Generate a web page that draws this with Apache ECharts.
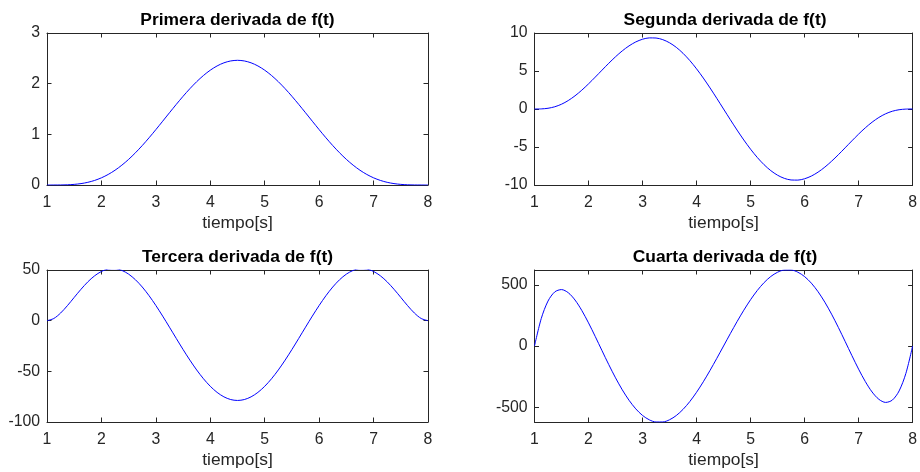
<!DOCTYPE html>
<html>
<head>
<meta charset="utf-8">
<title>Derivadas de f(t)</title>
<script src="https://cdn.jsdelivr.net/npm/echarts@6/dist/echarts.min.js"></script>
<style>
  html, body { margin: 0; padding: 0; background: #ffffff; }
  #chart { width: 920px; height: 472px; }
</style>
</head>
<body>
<div id="chart"></div>
<script>
// Time samples, 1 s to 8 s
const tiempo = [
  1, 1.125, 1.25, 1.375, 1.5, 1.625, 1.75, 1.875, 2, 2.125, 2.25, 2.375, 2.5, 2.625, 2.75, 2.875,
  3, 3.125, 3.25, 3.375, 3.5, 3.625, 3.75, 3.875, 4, 4.125, 4.25, 4.375, 4.5, 4.625, 4.75, 4.875,
  5, 5.125, 5.25, 5.375, 5.5, 5.625, 5.75, 5.875, 6, 6.125, 6.25, 6.375, 6.5, 6.625, 6.75, 6.875,
  7, 7.125, 7.25, 7.375, 7.5, 7.625, 7.75, 7.875, 8
];

const primera = [
  0, 0.00006, 0.00089, 0.00416, 0.01219, 0.02754, 0.05276, 0.09016, 0.14164, 0.20854, 0.29166, 0.39108,
  0.50625, 0.63604, 0.77867, 0.93183, 1.09286, 1.25863, 1.4258, 1.59098, 1.7505, 1.90104, 2.0391, 2.16177,
  2.2661, 2.34984, 2.4111, 2.44843, 2.46094, 2.44843, 2.4111, 2.34984, 2.2661, 2.16177, 2.0391, 1.90104,
  1.7505, 1.59098, 1.4258, 1.25863, 1.09286, 0.93183, 0.77867, 0.63604, 0.50625, 0.39108, 0.29166, 0.20854,
  0.14164, 0.09016, 0.05276, 0.02754, 0.01219, 0.00416, 0.00089, 0.00006, 0
];

const segunda = [
  0, 0.0131, 0.0956, 0.2933, 0.6303, 1.1129, 1.7334, 2.473, 3.3049, 4.1965, 5.1128, 6.017,
  6.8727, 7.6462, 8.3057, 8.8244, 9.1797, 9.3552, 9.3386, 9.1249, 8.7137, 8.1111, 7.3279, 6.3799,
  5.2876, 4.0751, 2.7697, 1.4009, 0, -1.4009, -2.7697, -4.0751, -5.2876, -6.3799, -7.3279, -8.1111,
  -8.7137, -9.1249, -9.3386, -9.3552, -9.1797, -8.8244, -8.3057, -7.6462, -6.8727, -6.017, -5.1128, -4.1965,
  -3.3049, -2.473, -1.7334, -1.1129, -0.6303, -0.2933, -0.0956, -0.0131, 0
];

const tercera = [
  0, 2.135, 7.525, 14.836, 22.964, 31.018, 38.299, 44.278, 48.581, 50.966, 51.316, 49.612,
  45.922, 40.392, 33.223, 24.662, 14.994, 4.526, -6.422, -17.525, -28.464, -38.933, -48.644, -57.333,
  -64.773, -70.768, -75.165, -77.849, -78.75, -77.849, -75.165, -70.768, -64.773, -57.333, -48.644, -38.933,
  -28.464, -17.525, -6.422, 4.526, 14.994, 24.662, 33.223, 40.392, 45.922, 49.612, 51.316, 50.966,
  48.581, 44.278, 38.299, 31.018, 22.964, 14.836, 7.525, 2.135, 0
];

const cuarta = [
  0, 224.32, 366.97, 441.55, 460.5, 435.07, 375.44, 290.7, 188.92, 77.23, -38.19, -152.02,
  -259.77, -357.74, -442.97, -513.19, -566.77, -602.68, -620.44, -620.12, -602.18, -567.55, -517.5, -453.64,
  -377.84, -292.22, -199.07, -100.82, 0, 100.82, 199.07, 292.22, 377.84, 453.64, 517.5, 567.55,
  602.18, 620.12, 620.44, 602.68, 566.77, 513.19, 442.97, 357.74, 259.77, 152.02, 38.19, -77.23,
  -188.92, -290.7, -375.44, -435.07, -460.5, -441.55, -366.97, -224.32, 0
];

// Panel titles and tick labels
const titulos = [
  'Primera derivada de f(t)',
  'Segunda derivada de f(t)',
  'Tercera derivada de f(t)',
  'Cuarta derivada de f(t)'
];
const etiquetaX = 'tiempo[s]';
const ticksX = [1, 2, 3, 4, 5, 6, 7, 8];
const ticksY1 = [0, 1, 2, 3];
const ticksY2 = [-10, -5, 0, 5, 10];
const ticksY3 = [-100, -50, 0, 50];
const ticksY4 = [-500, 0, 500];

const FONT = '"Liberation Sans", Arial, Helvetica, sans-serif';
const AXIS_COLOR = '#262626';

const panels = [
  { data: primera, ticks: ticksY1, min: ticksY1[0], max: ticksY1[ticksY1.length - 1], interval: 1 },
  { data: segunda, ticks: ticksY2, min: ticksY2[0], max: ticksY2[ticksY2.length - 1], interval: 5 },
  { data: tercera, ticks: ticksY3, min: ticksY3[0], max: ticksY3[ticksY3.length - 1], interval: 50 },
  // tight limits around the data, ticks placed explicitly
  { data: cuarta, ticks: ticksY4, min: Math.min(...cuarta), max: Math.max(...cuarta), custom: true }
];

// 2 x 2 layout of plot boxes
const boxes = [
  { left: 47, top: 33, width: 381, height: 152 },
  { left: 534.5, top: 33, width: 381, height: 152 },
  { left: 47, top: 270, width: 381, height: 152 },
  { left: 534.5, top: 270, width: 381, height: 152 }
];

const grid = [], xAxis = [], yAxis = [], series = [], title = [];

panels.forEach((p, i) => {
  const b = boxes[i];
  grid.push({ left: b.left, top: b.top, width: b.width, height: b.height, containLabel: false });

  title.push({
    text: titulos[i],
    left: b.left + b.width / 2,
    top: b.top - 21.5,
    textAlign: 'center',
    padding: 0,
    textStyle: { fontFamily: FONT, fontSize: 17.4, fontWeight: 'bold', color: '#000000' }
  });

  const line = { show: true, onZero: false, lineStyle: { color: AXIS_COLOR, width: 1 } };
  const tick = { show: true, inside: true, length: 4.5, lineStyle: { color: AXIS_COLOR, width: 1 } };

  const xBase = {
    type: 'value', gridIndex: i, min: ticksX[0], max: ticksX[ticksX.length - 1], interval: 1,
    axisLine: line, axisTick: tick, splitLine: { show: false }
  };
  xAxis.push(Object.assign({}, xBase, {
    position: 'bottom',
    axisLabel: { show: true, margin: 9.5, fontFamily: FONT, fontSize: 15.8, color: AXIS_COLOR },
    name: etiquetaX, nameLocation: 'middle', nameGap: 29.5,
    nameTextStyle: { fontFamily: FONT, fontSize: 17.4, color: AXIS_COLOR }
  }));
  xAxis.push(Object.assign({}, xBase, { position: 'top', axisLabel: { show: false } }));

  const yBase = {
    type: 'value', gridIndex: i, min: p.min, max: p.max,
    axisLine: line, splitLine: { show: false }
  };
  if (p.custom) {
    yBase.axisTick = Object.assign({}, tick, { customValues: p.ticks });
  } else {
    yBase.interval = p.interval;
    yBase.axisTick = tick;
  }
  const yLabel = { show: true, margin: 7, fontFamily: FONT, fontSize: 15.8, color: AXIS_COLOR };
  if (p.custom) yLabel.customValues = p.ticks;
  yAxis.push(Object.assign({}, yBase, { position: 'left', axisLabel: yLabel }));
  yAxis.push(Object.assign({}, yBase, { position: 'right', axisLabel: { show: false } }));

  series.push({
    type: 'line',
    xAxisIndex: i * 2,
    yAxisIndex: i * 2,
    data: tiempo.map((t, k) => [t, p.data[k]]),
    showSymbol: false,
    smooth: 0.3,
    lineStyle: { color: '#0000ff', width: 1 },
    clip: true,
    animation: false
  });
});

const chart = echarts.init(document.getElementById('chart'), null, { renderer: 'canvas' });
chart.setOption({
  backgroundColor: '#ffffff',
  animation: false,
  title, grid, xAxis, yAxis, series
});
</script>
</body>
</html>
